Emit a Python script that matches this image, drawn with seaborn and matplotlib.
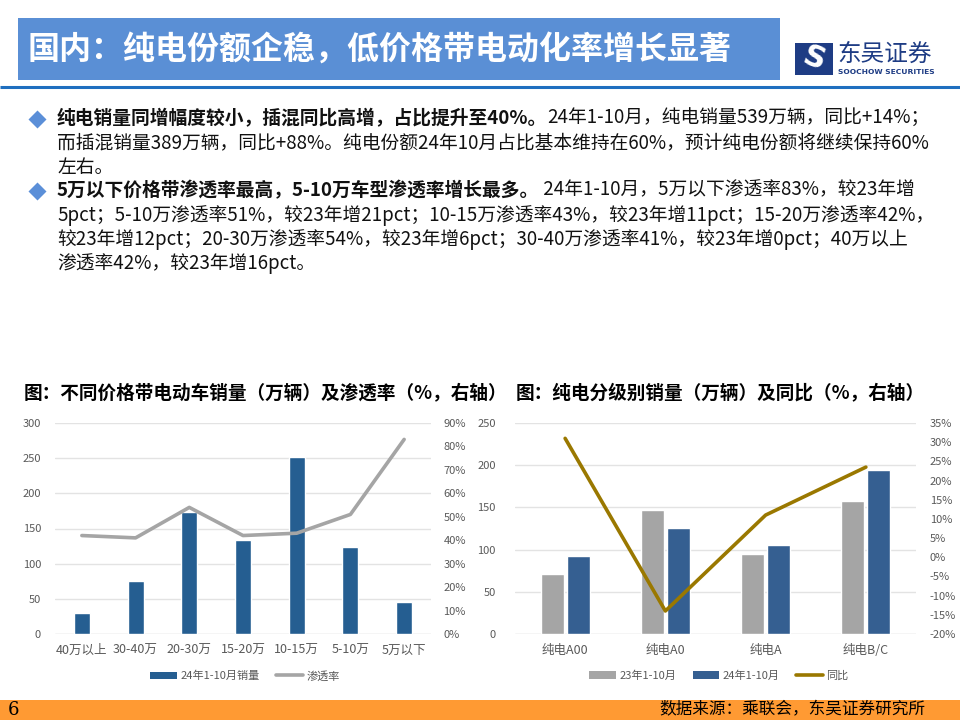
import numpy as np
import pandas as pd
import matplotlib
matplotlib.use('Agg')
import matplotlib.pyplot as plt
import seaborn as sns
from matplotlib.patches import Rectangle, Patch
from matplotlib.lines import Line2D

sns.set_theme(style='white')
plt.rcParams['font.family'] = ['Noto Sans CJK SC', 'DejaVu Sans']
plt.rcParams['axes.unicode_minus'] = False

# ---------------- data ----------------
title = '国内：纯电份额企稳，低价格带电动化率增长显著'
bullet1 = [('纯电销量同增幅度较小，插混同比高增，占比提升至40%。', '24年1-10月，纯电销量539万辆，同比+14%；'),
           ('', '而插混销量389万辆，同比+88%。纯电份额24年10月占比基本维持在60%，预计纯电份额将继续保持60%'),
           ('', '左右。')]
bullet2 = [('5万以下价格带渗透率最高，5-10万车型渗透率增长最多。', ' 24年1-10月，5万以下渗透率83%，较23年增'),
           ('', '5pct；5-10万渗透率51%，较23年增21pct；10-15万渗透率43%，较23年增11pct；15-20万渗透率42%，'),
           ('', '较23年增12pct；20-30万渗透率54%，较23年增6pct；30-40万渗透率41%，较23年增0pct；40万以上'),
           ('', '渗透率42%，较23年增16pct。')]

chart1_title = '图：不同价格带电动车销量（万辆）及渗透率（%，右轴）'
price_bands = ['40万以上', '30-40万', '20-30万', '15-20万', '10-15万', '5-10万', '5万以下']
sales_2024 = [30, 75, 174, 133, 252, 123, 45]
penetration = [42, 41, 54, 42, 43, 51, 83]
left_ticks1 = [0, 50, 100, 150, 200, 250, 300]
right_ticks1 = [0, 10, 20, 30, 40, 50, 60, 70, 80, 90]

chart2_title = '图：纯电分级别销量（万辆）及同比（%，右轴）'
classes = ['纯电A00', '纯电A0', '纯电A', '纯电B/C']
sales_23 = [71, 147, 95, 157]
sales_24 = [93, 126, 105, 194]
yoy = [31, -14, 11, 23.5]
left_ticks2 = [0, 50, 100, 150, 200, 250]
right_ticks2 = [-20, -15, -10, -5, 0, 5, 10, 15, 20, 25, 30, 35]
series_names = ['23年1-10月', '24年1-10月']

source = '数据来源：乘联会，东吴证券研究所'
page_no = '6'

# ---------------- layout ----------------
W, H = 960, 720
fig = plt.figure(figsize=(9.6, 7.2), dpi=100)
fig.patch.set_facecolor('white')
bg = fig.add_axes([0, 0, 1, 1], zorder=0)
bg.set_xlim(0, W)
bg.set_ylim(H, 0)
bg.axis('off')

# banner
bg.add_patch(Rectangle((18, 18), 762, 62, color='#5A8FD5', lw=0))
bg.text(28, 50, title, color='white', fontsize=23, fontweight='bold', va='center', ha='left')
bg.plot([0, W], [87, 87], color='#1F6FBF', lw=2.2, solid_capstyle='butt')

# logo
bg.add_patch(Rectangle((795, 43), 38, 32, color='#1E3C84', lw=0))
bg.text(814, 59, 'S', color='white', fontsize=22, fontweight='bold', ha='center', va='center',
        family='DejaVu Sans', rotation=-20)
bg.text(837, 54, '东吴证券', color='#1E3C84', fontsize=17, va='center', ha='left')
bg.text(838, 72, 'SOOCHOW SECURITIES', color='#1E3C84', fontsize=5.4, fontweight='bold',
        va='center', ha='left', family='DejaVu Sans')

# bullets
TXT = '#111111'
FS = 13.5
def draw_lines(lines, ys):
    for (b, n), y in zip(lines, ys):
        if b:
            t = bg.text(57, y, b, fontsize=FS, fontweight='bold', color=TXT, va='center', ha='left')
            bg.annotate(n, xy=(1, 0), xycoords=t, va='bottom', ha='left', fontsize=FS, color=TXT)
        else:
            bg.text(57, y, n, fontsize=FS, color=TXT, va='center', ha='left')

draw_lines(bullet1, [119, 143, 167])
draw_lines(bullet2, [191, 216, 240, 264])
for y in (119, 191):
    bg.plot([37], [y], marker='D', ms=9, color='#5B8FD8', mec='none')

# chart titles
bg.text(24, 393, chart1_title, fontsize=13.4, fontweight='bold', color='black', va='center', ha='left')
bg.text(516, 393, chart2_title, fontsize=13.4, fontweight='bold', color='black', va='center', ha='left')

# footer
bg.add_patch(Rectangle((0, 700), W, 20, color='#FF9A33', lw=0))
bg.text(8, 710, page_no, fontsize=13, family='DejaVu Serif', color='black', va='center', ha='left')
bg.text(925, 710, source, fontsize=12, color='black', va='center', ha='right')

GRID = '#E3E3E3'
TICK = '#595959'

def px_axes(x0, x1, y_top, y_bot):
    return fig.add_axes([x0 / W, 1 - y_bot / H, (x1 - x0) / W, (y_bot - y_top) / H])

# ---------------- chart 1 ----------------
df1 = pd.DataFrame({'价格带': price_bands, '销量': sales_2024, '渗透率': penetration})
ax1 = px_axes(55, 431, 423, 634)
ax1.set_facecolor('none')
for v in left_ticks1:
    ax1.axhline(v, color=GRID if v else '#D0D0D0', lw=1, zorder=0)
sns.barplot(data=df1, x='价格带', y='销量', color='#255E91', width=0.3, saturation=1, ax=ax1, zorder=2)
ax1.set_xlim(-0.5, len(price_bands) - 0.5)
ax1.set_ylim(0, 300)
ax1.set_yticks(left_ticks1)
ax1.set_yticklabels([str(v) for v in left_ticks1])
ax1.tick_params(axis='y', length=0, pad=10, labelsize=8, labelcolor=TICK)
ax1.tick_params(axis='x', length=0, pad=7, labelsize=9, labelcolor=TICK)
ax1.set_xlabel('')
ax1.set_ylabel('')
for s in ax1.spines.values():
    s.set_visible(False)

ax1r = ax1.twinx()
sns.lineplot(x=df1.index, y=df1['渗透率'], ax=ax1r, color='#A5A5A5', lw=2.6, zorder=3)
ax1r.set_ylim(0, 90)
ax1r.set_yticks(right_ticks1)
ax1r.set_yticklabels([f'{v}%' for v in right_ticks1])
ax1r.tick_params(axis='y', length=0, pad=9, labelsize=8, labelcolor=TICK)
ax1r.set_ylabel('')
for s in ax1r.spines.values():
    s.set_visible(False)

h1 = [Patch(facecolor='#255E91', edgecolor='none'), Line2D([], [], color='#A5A5A5', lw=2.6)]
fig.legend(h1, ['24年1-10月销量', '渗透率'], loc='center', bbox_to_anchor=(245 / W, 1 - 676 / H),
           ncol=2, frameon=False, fontsize=8, handlelength=2.4, handletextpad=0.3,
           columnspacing=1.5, labelcolor=TICK)

# ---------------- chart 2 ----------------
df2 = pd.DataFrame({'级别': classes * 2,
                    '期间': [series_names[0]] * len(classes) + [series_names[1]] * len(classes),
                    '销量': sales_23 + sales_24})
ax2 = px_axes(515, 916, 423, 634)
ax2.set_facecolor('none')
for v in left_ticks2:
    ax2.axhline(v, color=GRID if v else '#D0D0D0', lw=1, zorder=0)
sns.barplot(data=df2, x='级别', y='销量', hue='期间', palette=['#A5A5A5', '#355F91'],
            width=0.52, gap=0.12, saturation=1, ax=ax2, legend=False, zorder=2)
ax2.set_xlim(-0.5, len(classes) - 0.5)
ax2.set_ylim(0, 250)
ax2.set_yticks(left_ticks2)
ax2.set_yticklabels([str(v) for v in left_ticks2])
ax2.tick_params(axis='y', length=0, pad=14, labelsize=8, labelcolor=TICK)
ax2.tick_params(axis='x', length=0, pad=7, labelsize=9, labelcolor=TICK)
ax2.set_xlabel('')
ax2.set_ylabel('')
for s in ax2.spines.values():
    s.set_visible(False)

ax2r = ax2.twinx()
sns.lineplot(x=np.arange(len(classes)), y=yoy, ax=ax2r, color='#9A7800', lw=2.6, zorder=3)
ax2r.set_ylim(-20, 35)
ax2r.set_yticks(right_ticks2)
ax2r.set_yticklabels([f'{v}%' for v in right_ticks2])
ax2r.tick_params(axis='y', length=0, pad=10, labelsize=8, labelcolor=TICK)
ax2r.set_ylabel('')
for s in ax2r.spines.values():
    s.set_visible(False)

h2 = [Patch(facecolor='#A5A5A5', edgecolor='none'), Patch(facecolor='#355F91', edgecolor='none'),
      Line2D([], [], color='#9A7800', lw=2.6)]
fig.legend(h2, series_names + ['同比'], loc='center', bbox_to_anchor=(719 / W, 1 - 676 / H),
           ncol=3, frameon=False, fontsize=8, handlelength=2.4, handletextpad=0.3,
           columnspacing=1.5, labelcolor=TICK)

fig.savefig('out.png', dpi=100)
